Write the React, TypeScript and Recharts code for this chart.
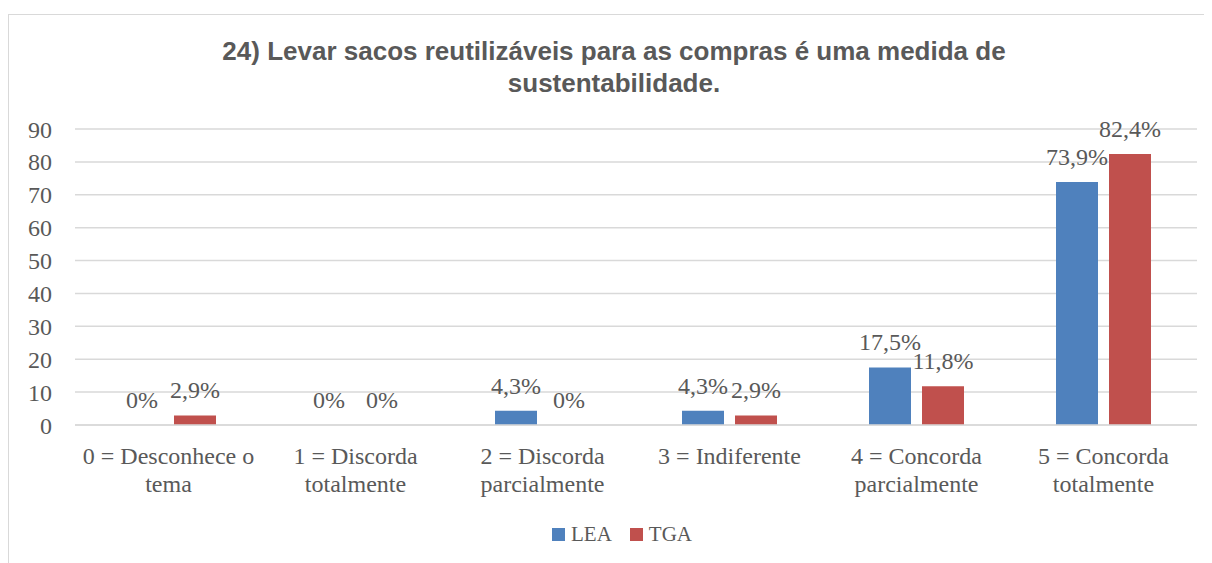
import React from 'react';
import { BarChart, Bar, XAxis, YAxis, CartesianGrid, Legend, LabelList } from 'recharts';

const categories = [
  '0 = Desconhece o tema',
  '1 = Discorda totalmente',
  '2 = Discorda parcialmente',
  '3 = Indiferente',
  '4 = Concorda parcialmente',
  '5 = Concorda totalmente',
];
const leaValues = [0, 0, 4.3, 4.3, 17.5, 73.9];
const tgaValues = [2.9, 0, 0, 2.9, 11.8, 82.4];
const yTicks = [0, 10, 20, 30, 40, 50, 60, 70, 80, 90];
const seriesColors = { LEA: '#4F81BD', TGA: '#C0504D' };

const chartData = categories.map((name, i) => ({
  name,
  LEA: leaValues[i],
  TGA: tgaValues[i],
}));

const SERIF = '"Liberation Serif", "Times New Roman", serif';
const TEXT = '#595959';
const FS = 24;

const fmt = (v: any) => (Number(v) === 0 ? '0%' : Number(v).toFixed(1).replace('.', ',') + '%');

// wraps the category names the way the original breaks them
const wrap = (s: string, max = 16) => {
  const words = s.split(' ');
  const lines: string[] = [];
  let cur = '';
  words.forEach((w) => {
    const next = cur ? cur + ' ' + w : w;
    if (next.length > max && cur) {
      lines.push(cur);
      cur = w;
    } else {
      cur = next;
    }
  });
  if (cur) lines.push(cur);
  return lines;
};

const CategoryTick = (props: any) => {
  const { x, y, payload } = props;
  const lines = wrap(String(payload.value));
  return (
    <text x={x} y={y + 31} textAnchor="middle" fill={TEXT} fontSize={FS} fontFamily={SERIF}>
      {lines.map((l, i) => (
        <tspan key={i} x={x} dy={i === 0 ? 0 : 28}>
          {l}
        </tspan>
      ))}
    </text>
  );
};

const LegendContent = (props: any) => {
  const { payload } = props;
  return (
    <div
      style={{
        display: 'flex',
        justifyContent: 'center',
        paddingLeft: 38,
        fontFamily: SERIF,
        fontSize: 21,
        color: TEXT,
      }}
    >
      {(payload || []).map((p: any, i: number) => (
        <div key={i} style={{ display: 'flex', alignItems: 'center', marginLeft: i === 0 ? 0 : 18 }}>
          <span style={{ display: 'inline-block', width: 13, height: 13, background: p.color, marginRight: 6 }} />
          <span>{p.value}</span>
        </div>
      ))}
    </div>
  );
};

export default function App() {
  return (
    <div
      style={{
        position: 'relative',
        marginTop: 6,
        width: 1210,
        height: 560,
        border: '1px solid #D9D9D9',
        background: '#fff',
      }}
    >
      <div
        style={{
          position: 'absolute',
          left: 0,
          right: 0,
          top: 20,
          textAlign: 'center',
          fontFamily: '"Liberation Sans", Arial, sans-serif',
          fontWeight: 'bold',
          fontSize: 26,
          lineHeight: '32px',
          color: TEXT,
        }}
      >
        24) Levar sacos reutilizáveis para as compras é uma medida de
        <br />
        sustentabilidade.
      </div>
      <BarChart
        width={1208}
        height={548}
        data={chartData}
        margin={{ top: 114, right: 20, bottom: 16, left: 0 }}
        barGap={11}
      >
        <CartesianGrid vertical={false} stroke="#D9D9D9" strokeWidth={1.5} />
        <XAxis
          dataKey="name"
          axisLine={{ stroke: '#D9D9D9', strokeWidth: 1.5 }}
          tickLine={false}
          interval={0}
          height={97}
          tick={<CategoryTick />}
        />
        <YAxis
          width={66}
          domain={[0, 90]}
          ticks={yTicks}
          axisLine={false}
          tickLine={false}
          tickSize={0}
          tickMargin={23}
          tick={{ fill: TEXT, fontSize: FS, fontFamily: SERIF }}
        />
        <Legend verticalAlign="bottom" content={<LegendContent />} />
        <Bar dataKey="LEA" fill={seriesColors.LEA} barSize={42} minPointSize={0.01} isAnimationActive={false}>
          <LabelList dataKey="LEA" position="top" offset={17} formatter={fmt} fill={TEXT} fontSize={FS} fontFamily={SERIF} />
        </Bar>
        <Bar dataKey="TGA" fill={seriesColors.TGA} barSize={42} minPointSize={0.01} isAnimationActive={false}>
          <LabelList dataKey="TGA" position="top" offset={17} formatter={fmt} fill={TEXT} fontSize={FS} fontFamily={SERIF} />
        </Bar>
      </BarChart>
    </div>
  );
}
